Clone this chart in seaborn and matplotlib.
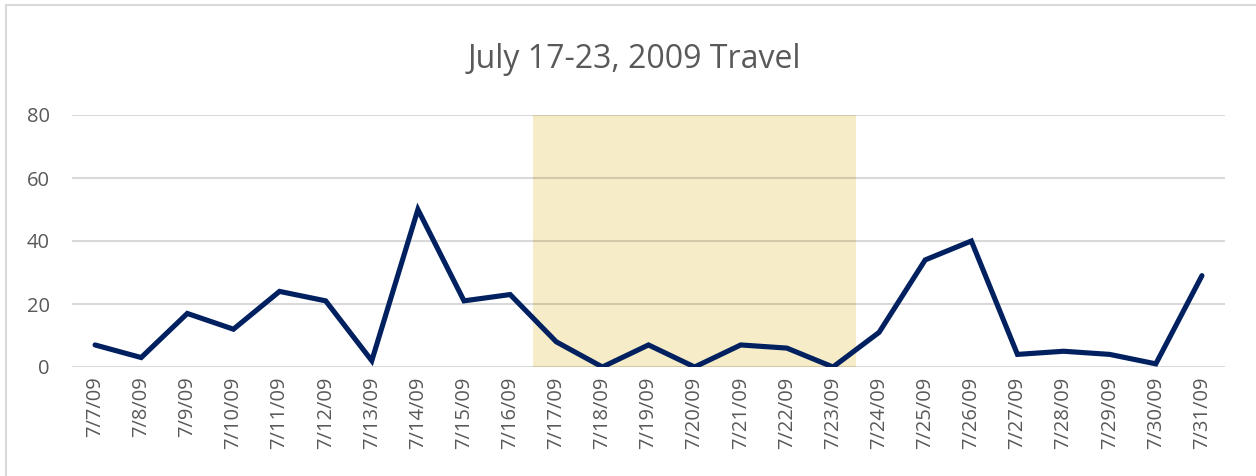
import matplotlib
matplotlib.use("Agg")
import matplotlib.pyplot as plt
import seaborn as sns
import pandas as pd
from matplotlib.patches import Rectangle

dates = ["7/7/09", "7/8/09", "7/9/09", "7/10/09", "7/11/09", "7/12/09", "7/13/09",
         "7/14/09", "7/15/09", "7/16/09", "7/17/09", "7/18/09", "7/19/09", "7/20/09",
         "7/21/09", "7/22/09", "7/23/09", "7/24/09", "7/25/09", "7/26/09", "7/27/09",
         "7/28/09", "7/29/09", "7/30/09", "7/31/09"]
values = [7, 3, 17, 12, 24, 21, 2, 50, 21, 23, 8, 0, 7, 0, 7, 6, 0, 11, 34, 40, 4, 5, 4, 1, 29]
travel = [0] * 10 + [80] * 7 + [0] * 8
yticks = [0, 20, 40, 60, 80]
title = "July 17-23, 2009 Travel"

sns.set_theme(style="white")
plt.rcParams['font.family'] = ['Open Sans', 'DejaVu Sans']

df = pd.DataFrame({"date": dates, "value": values, "travel": travel})
df["pos"] = range(len(dates))

fig = plt.figure(figsize=(12.56, 4.76), dpi=100)
ax = fig.add_axes([72 / 1256, 1 - 367 / 476, (1225 - 72) / 1256, (367 - 115) / 476])

sns.barplot(data=df, x="pos", y="travel", width=1.0, color="#F6EDC8", saturation=1,
            ax=ax, zorder=1, linewidth=0)
for b in ax.patches:
    b.set_zorder(1)
for v in yticks:
    ax.axhline(v, color=(0, 0, 0, 0.15), linewidth=1.5, zorder=2)
sns.lineplot(data=df, x="pos", y="value", color="#002060", linewidth=3.7, ax=ax,
             zorder=3, solid_joinstyle="miter", solid_capstyle="round")

ax.set_xlim(-0.5, len(dates) - 0.5)
ax.set_ylim(0, 80)
ax.set_yticks(yticks)
ax.set_yticklabels([str(v) for v in yticks], fontsize=14.5, color="#595959")
ax.set_xticks(range(len(dates)))
ax.set_xticklabels(dates, rotation=90, fontsize=14.5, color="#595959")
ax.tick_params(axis="x", length=0, pad=7)
ax.tick_params(axis="y", length=0, pad=16)
ax.set_xlabel("")
ax.set_ylabel("")
ax.grid(False)
for s in ax.spines.values():
    s.set_visible(False)

fig.text(634 / 1256, 1 - 60 / 476, title, ha="center", va="center", fontsize=23,
         color="#595959")
fig.patches.append(Rectangle((6 / 1256, -0.1), 1.2, 1 - 5 / 476 + 0.1,
                             transform=fig.transFigure, fill=False,
                             edgecolor="#D9D9D9", linewidth=1.5))

fig.savefig("out.png", dpi=100)
